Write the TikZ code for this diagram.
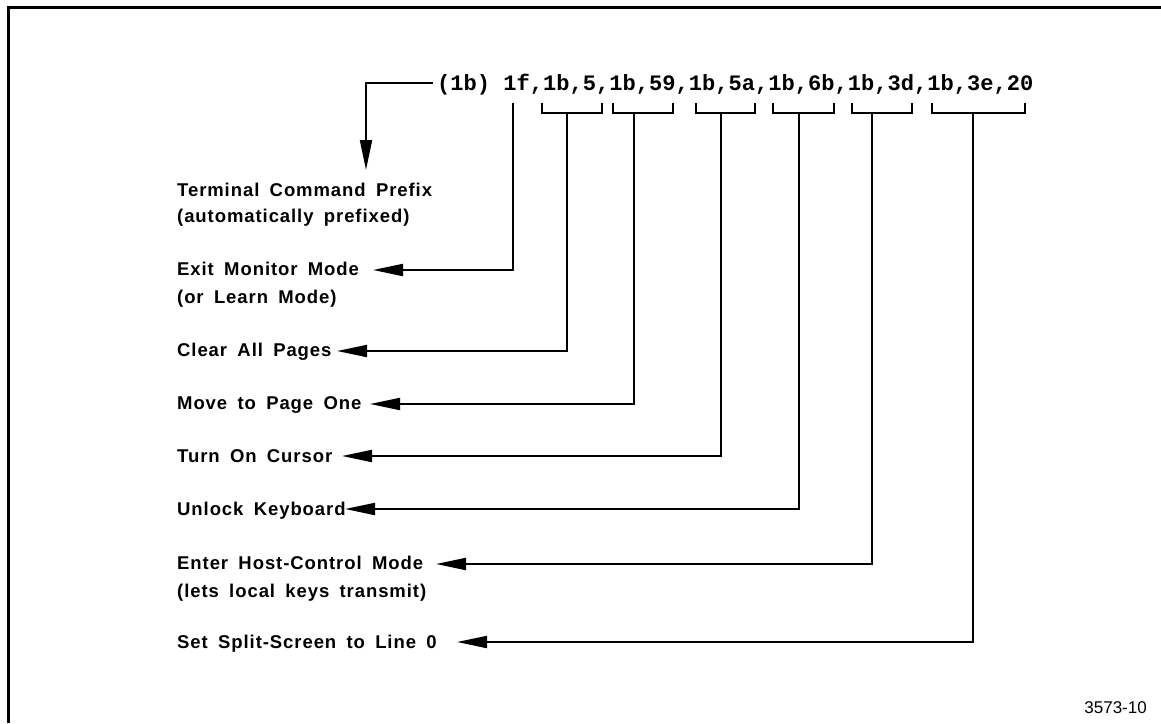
\documentclass[tikz,border=0pt]{standalone}
\usepackage{fontspec}
\setmainfont{Liberation Sans}
\newfontfamily\labfont[LetterSpace=5,WordSpace=1.7]{Liberation Sans}
\newfontfamily\codefont{Liberation Mono}
\usepackage{tikz}
\usetikzlibrary{arrows.meta, positioning, calc}

\tikzset{
  lab/.style={anchor=base west, inner sep=0pt, font=\labfont\bfseries\fontsize{18.5}{22}\selectfont},
  code/.style={anchor=base west, inner sep=0pt, font=\codefont\bfseries\fontsize{22.08}{26}\selectfont},
  wire/.style={line width=2pt},
  arr/.style={wire, -{Triangle[length=30pt,width=12pt]}}
}

\begin{document}
\begin{tikzpicture}[x=1pt, y=-1pt]
    \useasboundingbox (0,0) rectangle (1161,723);

    % frame
    \draw[line width=3pt] (8,723) -- (8,7) -- (1161,7);

    % the command string
    \node[code] (hdr) at (437,90) {(1b) 1f,1b,5,1b,59,1b,5a,1b,6b,1b,3d,1b,3e,20};
    \coordinate (P0) at (433,83);
    \coordinate (P1) at (366,170);

    % labels
    \node[lab] (term)  at (177,196) {Terminal Command Prefix};
    \node[lab] (term2) at (177,222) {(automatically prefixed)};
    \node[lab] (exit)  at (177,275) {Exit Monitor Mode};
    \node[lab] (exit2) at (177,303) {(or Learn Mode)};
    \node[lab] (clear) at (177,356) {Clear All Pages};
    \node[lab] (move)  at (177,409) {Move to Page One};
    \node[lab] (turn)  at (177,462) {Turn On Cursor};
    \node[lab] (unlk)  at (177,515) {Unlock Keyboard};
    \node[lab] (host)  at (177,569) {Enter Host-Control Mode};
    \node[lab] (host2) at (177,597) {(lets local keys transmit)};
    \node[lab] (split) at (177,648) {Set Split-Screen to Line 0};
    \node[anchor=base east, inner sep=0pt, font=\fontsize{17}{20}\selectfont] (fig) at (1147,713) {3573-10};

    % stems under the string
    \coordinate (S0) at (513,103);
    \coordinate (S1) at (567,113);
    \coordinate (S2) at (634,113);
    \coordinate (S3) at (721,113);
    \coordinate (S4) at (799,113);
    \coordinate (S5) at (872,113);
    \coordinate (S6) at (973,113);

    % arrow tips at the labels
    \coordinate (T0) at (373,270);
    \coordinate (T1) at (337,351);
    \coordinate (T2) at (370,404);
    \coordinate (T3) at (342,456);
    \coordinate (T4) at (345,509);
    \coordinate (T5) at (436,564);
    \coordinate (T6) at (457,642);

    % brackets
    \draw[wire] (542,103) -- (542,113) -- (602,113) -- (602,103);
    \draw[wire] (613,103) -- (613,113) -- (673,113) -- (673,103);
    \draw[wire] (696,103) -- (696,113) -- (755,113) -- (755,103);
    \draw[wire] (773,103) -- (773,113) -- (834,113) -- (834,103);
    \draw[wire] (852,103) -- (852,113) -- (912,113) -- (912,103);
    \draw[wire] (932,103) -- (932,113) -- (1025,113) -- (1025,103);

    % connectors
    \draw[arr] (P0) -| (P1);
    \draw[arr] (S0) |- (T0);
    \draw[arr] (S1) |- (T1);
    \draw[arr] (S2) |- (T2);
    \draw[arr] (S3) |- (T3);
    \draw[arr] (S4) |- (T4);
    \draw[arr] (S5) |- (T5);
    \draw[arr] (S6) |- (T6);
\end{tikzpicture}
\end{document}
